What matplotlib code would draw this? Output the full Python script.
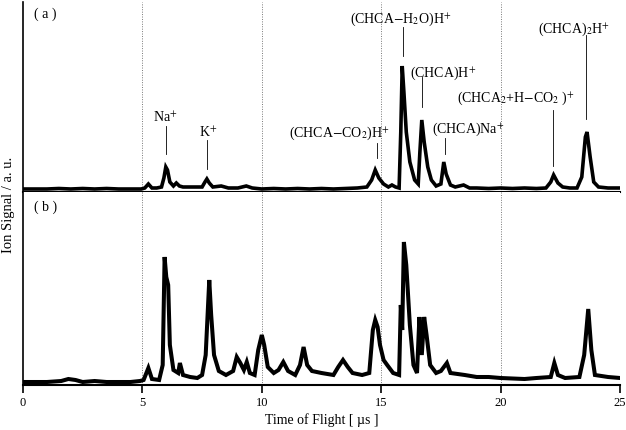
import matplotlib
matplotlib.use("Agg")
import matplotlib.pyplot as plt

plt.rcParams['font.family'] = ['Liberation Serif', 'DejaVu Serif']
plt.rcParams['mathtext.fontset'] = 'stix'

# ---- Data (time of flight in microseconds, signal in arbitrary units) ----
time_a = [0, 0.5, 1, 1.5, 2, 2.5, 3, 3.5, 4, 4.5, 4.95, 5.1, 5.25, 5.4, 5.6, 5.8, 5.9, 5.98, 6.05,
          6.15, 6.3, 6.42, 6.55, 6.7, 7.0, 7.3, 7.5, 7.62, 7.7, 7.8, 7.95, 8.3, 8.6, 9.0, 9.35, 9.6,
          10, 10.5, 11, 11.5, 12, 12.5, 13, 13.5, 14, 14.4, 14.6, 14.75, 14.9, 15.1, 15.3, 15.45,
          15.6, 15.75, 15.82, 15.88, 15.95, 16.05, 16.2, 16.4, 16.55, 16.62, 16.7, 16.8, 16.95,
          17.1, 17.3, 17.5, 17.62, 17.72, 17.9, 18.1, 18.45, 18.7, 19, 19.5, 20, 20.5, 21, 21.5,
          21.9, 22.1, 22.22, 22.4, 22.6, 22.9, 23.2, 23.4, 23.55, 23.62, 23.75, 23.9, 24.1, 24.5, 25]
signal_a = [3, 3, 3, 3.5, 3, 3.5, 3, 3.5, 3, 3, 3, 4, 8, 4, 4, 5, 14, 25, 22,
            10, 6, 9, 6, 5, 5, 5, 5, 10, 13, 9, 5, 6, 4, 4, 6, 4,
            3, 3.5, 3, 3.5, 3, 3.5, 3, 3.5, 4, 5, 12, 22, 14, 8, 5, 7,
            5, 4, 60, 126, 100, 60, 30, 12, 8, 40, 72, 50, 25,
            12, 6, 8, 30, 18, 7, 5, 7, 4, 4, 3.5, 4, 3.5, 4, 3.5,
            4, 10, 17, 9, 5, 4, 4, 15, 55, 60, 35, 10, 5, 4, 4]

time_b = [0, 0.5, 1, 1.6, 1.9, 2.2, 2.5, 3, 3.5, 4, 4.5, 4.9, 5.05, 5.25, 5.4, 5.7, 5.85, 5.93,
          6.0, 6.08, 6.15, 6.3, 6.5, 6.57, 6.7, 7.0, 7.3, 7.5, 7.65, 7.8, 7.88, 8.0, 8.2, 8.5, 8.8,
          8.95, 9.1, 9.25, 9.37, 9.5, 9.7, 9.85, 10.0, 10.1, 10.25, 10.5, 10.7, 10.9, 11.1, 11.4,
          11.6, 11.75, 11.9, 12.1, 12.5, 13.0, 13.2, 13.4, 13.6, 13.8, 14.2, 14.5, 14.65, 14.75,
          14.85, 14.95, 15.1, 15.25, 15.5, 15.75, 15.82, 15.88, 15.95, 16.05, 16.2, 16.35, 16.5,
          16.6, 16.7, 16.8, 16.9, 17.05, 17.3, 17.5, 17.75, 17.9, 18.5, 19, 19.5, 20, 21, 21.5,
          22.1, 22.25, 22.4, 22.7, 23.3, 23.5, 23.67, 23.8, 23.95, 24.5, 25]
signal_b = [3, 3, 3, 4, 6, 5, 3, 4, 3, 3, 3, 4, 5, 17, 6, 5, 20, 128,
            108, 100, 40, 15, 12, 22, 10, 8, 7, 10, 30, 105, 70, 30, 14, 10, 14,
            28, 22, 15, 23, 12, 10, 35, 50, 40, 18, 12, 15, 23, 14, 10,
            20, 38, 20, 14, 12, 10, 18, 25, 18, 12, 10, 12, 55, 65,
            58, 40, 25, 20, 12, 10, 80, 55, 143, 120, 60, 20, 12,
            68, 30, 68, 50, 20, 12, 14, 22, 12, 10, 8, 8, 7, 6, 7,
            8, 22, 10, 7, 8, 30, 76, 35, 10, 8, 7]

# annotations for panel (a): label, text centre x, text centre y, line x, line y0, line y1
ion_labels = ["Na$^{+}$", "K$^{+}$", "(CHCA$-$CO$_2$)H$^{+}$", "(CHCA$-$H$_2$O)H$^{+}$",
              "(CHCA)H$^{+}$", "(CHCA)Na$^{+}$", "(CHCA$_2$+H$-$CO$_2$ )$^{+}$", "(CHCA)$_2$H$^{+}$"]
label_t = [5.95, 7.75, 13.23, 15.81, 17.59, 18.64, 20.65, 23.07]
label_y = [75, 60, 60, 174, 120, 64, 95, 164]
line_t = [5.98, 7.72, 14.81, 15.93, 16.72, 17.67, 22.21, 23.56]
line_y0 = [38, 23, 34, 136, 85, 38, 26, 73]
line_y1 = [66, 52, 49, 165, 115, 54, 82, 157]

xticks = [0, 5, 10, 15, 20, 25]

W, H = 626, 430
fig = plt.figure(figsize=(W / 100, H / 100), dpi=100)
left = 23 / W
width = 597 / W
ax_a = fig.add_axes([left, 1 - 192 / H, width, 190 / H])
ax_b = fig.add_axes([left, 1 - 385 / H, width, 193 / H])

for ax, t, s, ytop, lw in [(ax_a, time_a, signal_a, 190, 2.6), (ax_b, time_b, signal_b, 193, 2.9)]:
    ax.set_xlim(0, 25)
    ax.set_ylim(0, ytop)
    for g in [5, 10, 15, 20, 25]:
        ax.axvline(g, color='#777777', lw=0.7, ls=(0, (1, 1.5)), zorder=0)
    ax.plot(t, s, color='black', lw=lw, solid_joinstyle='miter')
    ax.spines['top'].set_visible(False)
    ax.spines['right'].set_visible(False)
    ax.spines['left'].set_linewidth(1.2)
    ax.spines['bottom'].set_linewidth(1.5)
    ax.set_yticks([])

ax_a.set_xticks([])
ax_b.set_xticks(xticks)
ax_b.set_xticklabels([str(v) for v in xticks], fontsize=9)
ax_b.tick_params(axis='x', direction='out', length=6, width=1.2, pad=3)

ax_a.text(0.45, 178, "( a )", fontsize=10, va='center', ha='left')
ax_b.text(0.45, 178, "( b )", fontsize=10, va='center', ha='left')

for lab, tx, ty, lx, y0, y1 in zip(ion_labels, label_t, label_y, line_t, line_y0, line_y1):
    ax_a.text(tx, ty - 4.5, lab, fontsize=10, ha='center', va='baseline')
    ax_a.plot([lx, lx], [y0, y1], color='black', lw=0.6)

fig.text((23 + 12.5 * 23.88) / W, 1 - 420 / H, "Time of Flight [ \u00b5s ]", fontsize=10,
         ha='center', va='center')
fig.text(9 / W, 1 - 205 / H, "Ion Signal / a. u.", rotation=90, fontsize=10.5,
         ha='center', va='center')

fig.savefig("out.png", dpi=100)
